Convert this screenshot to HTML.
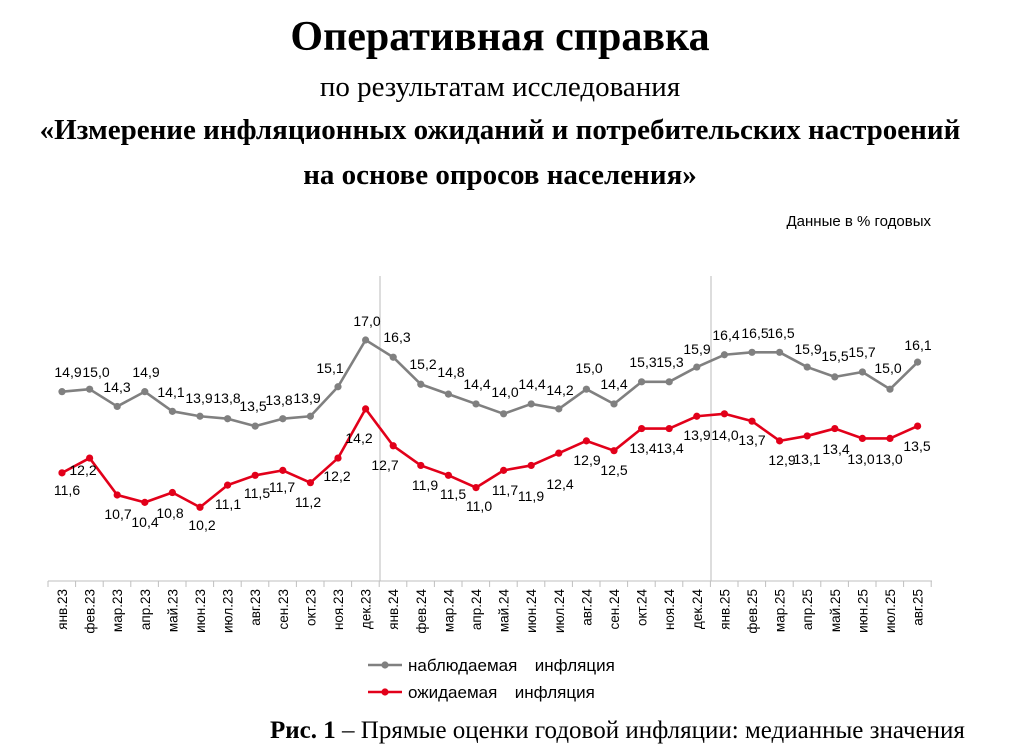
<!DOCTYPE html>
<html><head><meta charset="utf-8"><style>
body{margin:0;background:#fff;width:1026px;height:754px;overflow:hidden;position:relative}
.t{position:absolute;left:0;width:1000px;text-align:center;font-family:"Liberation Serif",serif;color:#000;white-space:nowrap}
</style></head><body>
<div class="t" style="top:13px;font-size:42px;font-weight:bold">Оперативная справка</div>
<div class="t" style="top:71px;font-size:29px">по результатам исследования</div>
<div class="t" style="top:114px;font-size:29px;font-weight:bold">«Измерение инфляционных ожиданий и потребительских настроений</div>
<div class="t" style="top:159px;font-size:29px;font-weight:bold">на основе опросов населения»</div>
<div style="position:absolute;right:95px;top:213px;font:15px 'Liberation Sans',sans-serif">Данные в % годовых</div>
<div style="position:absolute;left:270px;top:717px;font:25px 'Liberation Serif',serif;white-space:nowrap"><b>Рис. 1</b> – Прямые оценки годовой инфляции: медианные значения</div>
<svg id="s" width="1026" height="754" style="position:absolute;left:0;top:0" font-family="Liberation Sans, sans-serif" font-size="14"></svg>
<script>
var g=[14.9,15.0,14.3,14.9,14.1,13.9,13.8,13.5,13.8,13.9,15.1,17.0,16.3,15.2,14.8,14.4,14.0,14.4,14.2,15.0,14.4,15.3,15.3,15.9,16.4,16.5,16.5,15.9,15.5,15.7,15.0,16.1];
var r=[11.6,12.2,10.7,10.4,10.8,10.2,11.1,11.5,11.7,11.2,12.2,14.2,12.7,11.9,11.5,11.0,11.7,11.9,12.4,12.9,12.5,13.4,13.4,13.9,14.0,13.7,12.9,13.1,13.4,13.0,13.0,13.5];
var gl=[[68,372],[96,372],[117,387],[146,372],[171,392],[199,398],[227,398],[253,406],[279,400],[307,398],[330,368],[367,321],[397,337],[423,364],[451,372],[477,384],[505,392],[532,384],[560,390],[589,368],[614,384],[643,362],[670,362],[697,349],[726,335],[755,333],[781,333],[808,349],[835,356],[862,352],[888,368],[918,345]];
var rl=[[67,490],[83,470],[118,514],[145,522],[170,513],[202,525],[228,504],[257,493],[282,487],[308,502],[337,476],[359,438],[385,465],[425,485],[453,494],[479,506],[505,490],[531,496],[560,484],[587,460],[614,470],[643,448],[670,448],[697,435],[725,435],[752,440],[782,460],[807,459],[836,449],[861,459],[889,459],[917,446]];
var m=["янв","фев","мар","апр","май","июн","июл","авг","сен","окт","ноя","дек"];
var X=i=>62+i*27.6, Y=v=>340+(17-v)*24.6;
var h='<line x1="380" y1="276" x2="380" y2="581" stroke="#bbb"/><line x1="711" y1="276" x2="711" y2="581" stroke="#bbb"/>';
h+='<line x1="48" y1="581" x2="932" y2="581" stroke="#bfbfbf"/>';
for(var i=0;i<=32;i++){var x=48+i*27.6;h+='<line x1="'+x+'" y1="581" x2="'+x+'" y2="587" stroke="#bfbfbf"/>';}
for(var i=0;i<32;i++){var lab=m[i%12]+"."+(23+Math.floor(i/12));h+='<text transform="translate('+(X(i)+5)+',589) rotate(-90)" text-anchor="end" font-size="13.5">'+lab+'</text>';}
function ser(d,c,L){var p=d.map((v,i)=>X(i)+','+Y(v)).join(' ');var s='<polyline points="'+p+'" fill="none" stroke="'+c+'" stroke-width="2.6" stroke-linejoin="round"/>';d.forEach((v,i)=>{s+='<circle cx="'+X(i)+'" cy="'+Y(v)+'" r="3.6" fill="'+c+'"/>';s+='<text x="'+L[i][0]+'" y="'+(L[i][1]+5)+'" text-anchor="middle">'+v.toFixed(1).replace('.',',')+'</text>';});return s;}
h+=ser(g,"#808080",gl)+ser(r,"#e2001a",rl);
h+='<line x1="368" y1="665" x2="402" y2="665" stroke="#808080" stroke-width="2.6"/><circle cx="385" cy="665" r="3.6" fill="#808080"/><text x="408" y="671" font-size="17" word-spacing="4">наблюдаемая&#160; инфляция</text>';
h+='<line x1="368" y1="692" x2="402" y2="692" stroke="#e2001a" stroke-width="2.6"/><circle cx="385" cy="692" r="3.6" fill="#e2001a"/><text x="408" y="698" font-size="17" word-spacing="4">ожидаемая&#160; инфляция</text>';
document.getElementById('s').innerHTML=h;
</script>
</body></html>
